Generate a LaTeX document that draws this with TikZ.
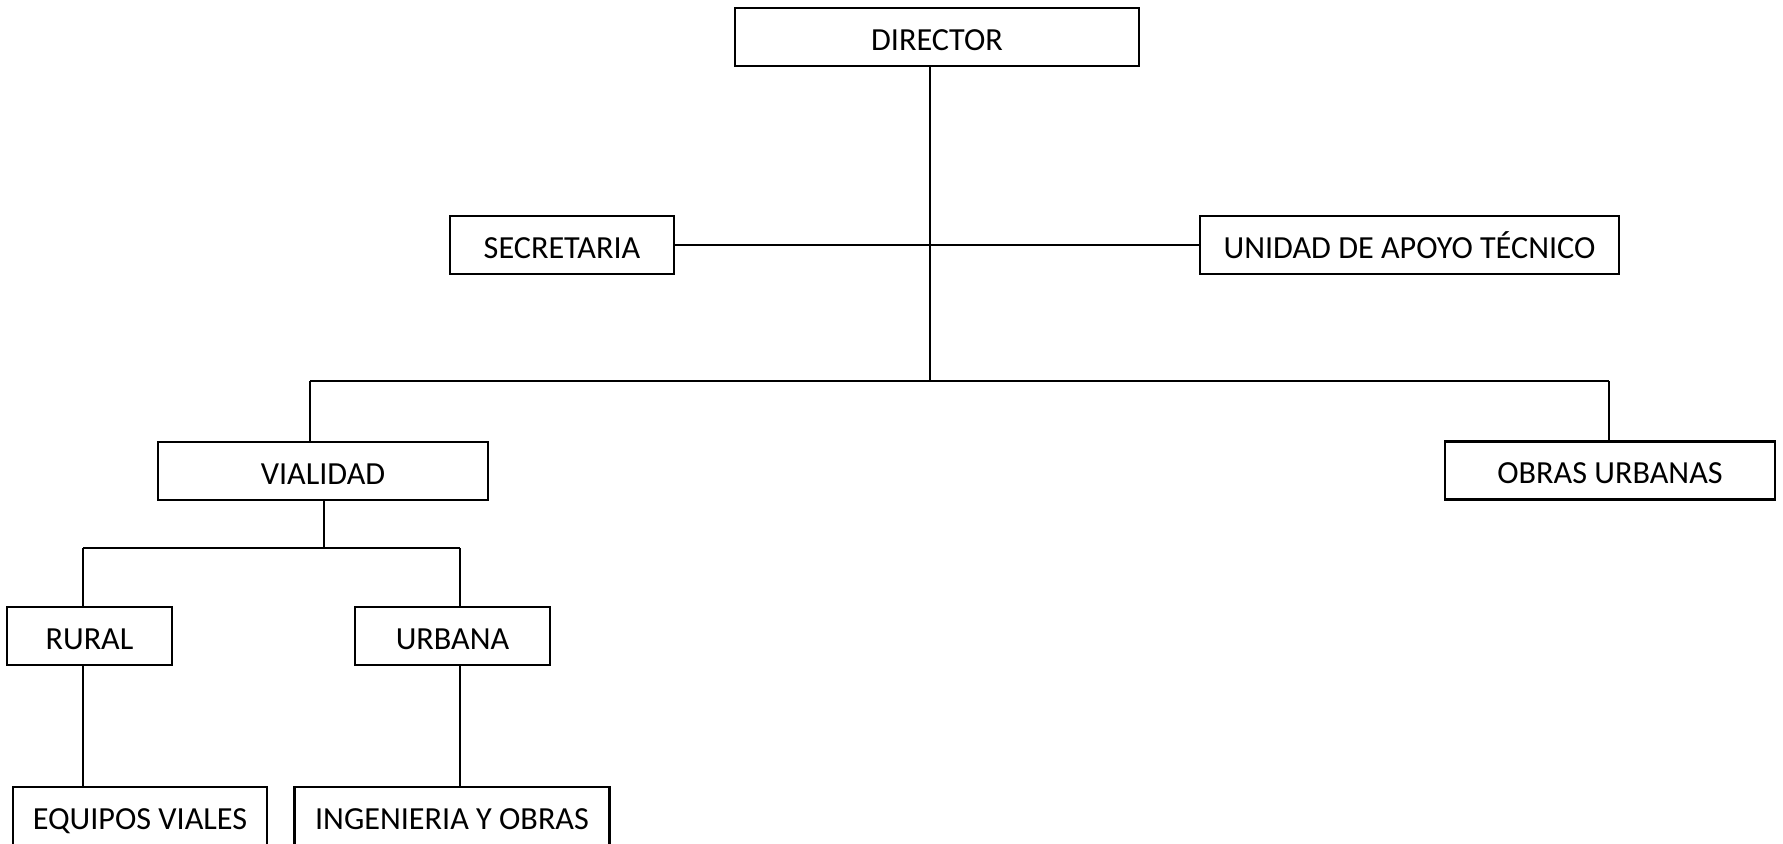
\documentclass[tikz,border=0pt]{standalone}
\usepackage{fontspec}
\setmainfont{Carlito}
\begin{document}
\begin{tikzpicture}[x=0.5pt,y=-0.5pt,
  box/.style={draw=black, line width=1.1pt, inner sep=0pt, minimum height=29pt,
    font=\fontsize{16.1}{18}\selectfont, text height=13.4pt, text depth=0pt},
  conn/.style={draw=black, line width=1pt}]
\clip (0,0) rectangle (1783,843);
\fill[white] (0,0) rectangle (1783,843);
\node[box, minimum width=202pt]   (dir) at (937,37)    {DIRECTOR};
\node[box, minimum width=112pt]   (sec) at (562,245)   {SECRETARIA};
\node[box, minimum width=209.5pt] (uat) at (1409.5,245) {UNIDAD DE APOYO TÉCNICO};
\node[box, minimum width=165pt]   (via) at (323,471)   {VIALIDAD};
\node[box, minimum width=165pt]   (obr) at (1610,470.5) {OBRAS URBANAS};
\node[box, minimum width=82.5pt]  (rur) at (89.5,636)  {RURAL};
\node[box, minimum width=97.5pt]  (urb) at (452.5,636) {URBANA};
\node[box, minimum width=127.3pt] (eqv) at (140,816)   {EQUIPOS VIALES};
\node[box, minimum width=157.5pt] (ing) at (452,816)   {INGENIERIA Y OBRAS};
% junction coordinates
\coordinate (tl) at (310,381);
\coordinate (tr) at (1609,381);
\coordinate (tm) at (930,381);
\coordinate (sl) at (83,548);
\coordinate (sr) at (460,548);
\coordinate (sm) at (324,548);
% connectors
\draw[conn] (dir.south -| tm) -- (tm);
\draw[conn] (sec.east) -- (uat.west);
\draw[conn] (tl) -- (tr);
\draw[conn] (tl) -- (tl |- via.north);
\draw[conn] (tr) -- (tr |- obr.north);
\draw[conn] (via.south -| sm) -- (sm);
\draw[conn] (sl) -- (sr);
\draw[conn] (sl) -- (sl |- rur.north);
\draw[conn] (sr) -- (sr |- urb.north);
\draw[conn] (rur.south -| sl) -- (sl |- eqv.north);
\draw[conn] (urb.south -| sr) -- (sr |- ing.north);
\end{tikzpicture}
\end{document}
